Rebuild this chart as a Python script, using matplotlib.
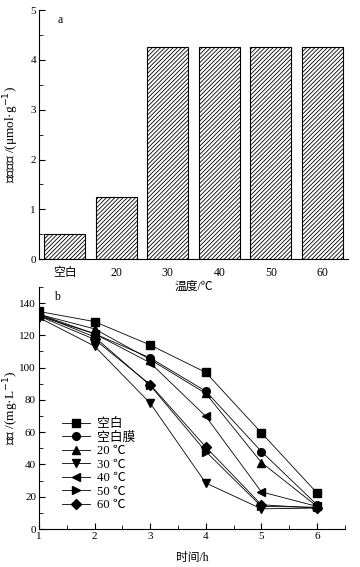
import matplotlib
matplotlib.use('Agg')
import matplotlib.pyplot as plt

plt.rcParams['font.family'] = ['Liberation Serif', 'Noto Sans CJK SC']
plt.rcParams['hatch.linewidth'] = 0.6
plt.rcParams['font.size'] = 8.5

# panel a
temp_labels = ['空白', '20', '30', '40', '50', '60']
amino_content = [0.5, 1.24, 4.26, 4.26, 4.26, 4.26]

# panel b
hours = [1, 2, 3, 4, 5, 6]
series_names = ['空白', '空白膜', '20 ℃', '30 ℃', '40 ℃', '50 ℃', '60 ℃']
conc_blank = [134.8, 128.5, 114, 97, 59.6, 22.3]
conc_blank_mem = [133, 121, 106, 85.4, 48, 15]
conc_20 = [133, 124, 105, 84, 41.2, 14]
conc_30 = [131, 113.3, 78, 28.5, 12.5, 13]
conc_40 = [132, 121, 103, 69.8, 23, 14]
conc_50 = [133, 119, 89, 48, 14, 13.5]
conc_60 = [132, 117.5, 89.5, 50.8, 15, 13]
markers = ['s', 'o', '^', 'v', '<', '>', 'D']

fig = plt.figure(figsize=(3.6, 5.67), dpi=100)

ax1 = fig.add_axes([0.108, 0.543, 0.859, 0.439])
idx = list(range(len(temp_labels)))
ax1.bar(idx, amino_content, width=0.8, color='white', edgecolor='black',
        hatch='////////', linewidth=0.8)
ax1.set_xlim(-0.5, 5.5)
ax1.set_ylim(0, 5)
ax1.set_xticks(idx)
ax1.set_xticklabels(temp_labels)
ax1.set_yticks([0, 1, 2, 3, 4, 5])
ax1.set_yticks([0.5, 1.5, 2.5, 3.5, 4.5], minor=True)
ax1.spines['top'].set_visible(False)
ax1.spines['right'].set_visible(False)
ax1.tick_params(direction='in', which='major', length=4.3, labelsize=8, pad=2)
ax1.tick_params(direction='in', which='minor', length=3)
ax1.tick_params(axis='x', length=0, labelsize=8.5, pad=6)
ax1.set_xlabel('温度/℃', labelpad=1)
ax1.set_ylabel('氨基含量 /(μmol·g$^{-1}$)', fontsize=9.5)
ax1.yaxis.set_label_coords(-0.058, 0.5)
ax1.text(0.06, 0.985, 'a', transform=ax1.transAxes, va='top')

ax2 = fig.add_axes([0.108, 0.067, 0.85, 0.427])
ax2.patch.set_visible(False)
all_conc = [conc_blank, conc_blank_mem, conc_20, conc_30, conc_40, conc_50, conc_60]
for name, ys, m in zip(series_names, all_conc, markers):
    ax2.plot(hours, ys, marker=m, color='black', linewidth=0.6,
             markersize=5.5 if m != 'D' else 5, label=name)
ax2.set_xlim(1, 6.5)
ax2.set_ylim(0, 150)
ax2.set_xticks(hours)
ax2.set_xticks([1.5, 2.5, 3.5, 4.5, 5.5, 6.5], minor=True)
ax2.set_yticks(range(0, 141, 20))
ax2.set_yticks(range(10, 151, 20), minor=True)
ax2.spines['top'].set_visible(False)
ax2.spines['right'].set_visible(False)
ax2.tick_params(direction='in', which='major', length=4.3, labelsize=8, pad=2)
ax2.tick_params(direction='in', which='minor', length=3)
ax2.set_xlabel('时间/h', labelpad=8)
ax2.set_ylabel('浓度 /(mg·L$^{-1}$)', fontsize=9.5)
ax2.yaxis.set_label_coords(-0.058, 0.5)
ax2.text(0.05, 0.985, 'b', transform=ax2.transAxes, va='top')
ax2.legend(loc='upper left', bbox_to_anchor=(0.06, 0.48), frameon=False,
           handlelength=2.2, handletextpad=0.5, labelspacing=0.12,
           borderaxespad=0, fontsize=9.2)

fig.savefig('out.png', dpi=100)
